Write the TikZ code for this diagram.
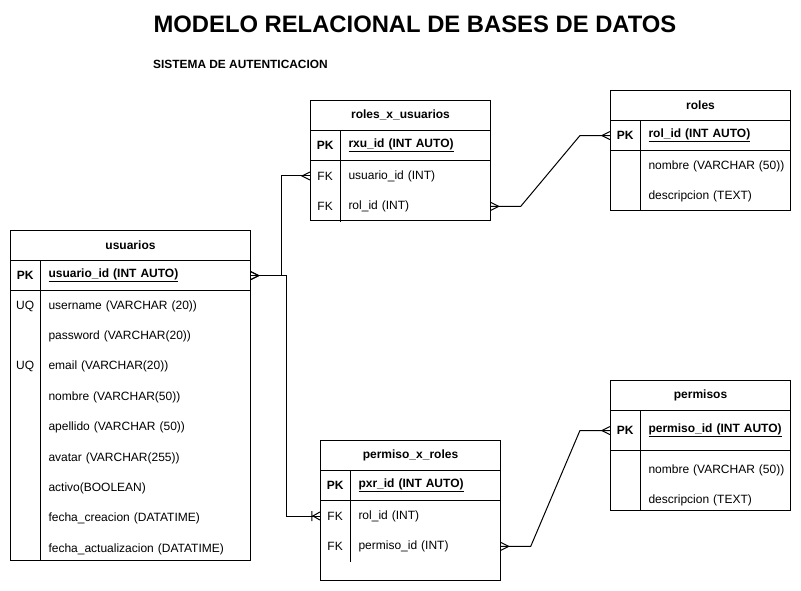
\documentclass[tikz,border=0pt]{standalone}
\usepackage{fontspec}
\setmainfont{Liberation Sans}
\usetikzlibrary{positioning, decorations.markings}

\newcommand{\tblfont}{\fontsize{12pt}{14pt}\selectfont}

\tikzstyle{tbl} = [draw, line width=1pt, inner sep=0pt, anchor=north west]
\tikzstyle{thead} = [inner sep=0pt, minimum height=30pt, align=center, font=\tblfont\bfseries]
\tikzstyle{keycol} = [inner sep=0pt, minimum width=30pt, minimum height=30pt, font=\tblfont]
\tikzstyle{pkey} = [keycol, font=\tblfont\bfseries]
\tikzstyle{fieldcol} = [inner sep=0pt, minimum height=30pt, text width=142pt, align=left, font=\tblfont]
\tikzstyle{pfield} = [fieldcol, font=\tblfont\bfseries]
\tikzstyle{sepline} = [line width=1pt]
\tikzstyle{link} = [line width=1pt]
\tikzstyle{crowStart} = [postaction={decorate, decoration={markings,
   mark=at position 0 with {\draw[line width=1pt] (0pt,4pt) -- (8pt,0pt) -- (0pt,-4pt);}}}]
\tikzstyle{crowEnd} = [postaction={decorate, decoration={markings,
   mark=at position 1 with {\draw[line width=1pt] (0pt,4pt) -- (-8pt,0pt) -- (0pt,-4pt);}}}]
\tikzstyle{oneManyEnd} = [postaction={decorate, decoration={markings,
   mark=at position 1 with {\draw[line width=1pt] (0pt,4pt) -- (-7pt,0pt) -- (0pt,-4pt)
   (-8pt,5pt) -- (-8pt,-5pt);}}}]

\begin{document}
\begin{tikzpicture}[x=1pt, y=-1pt]
  \useasboundingbox (0,0) rectangle (801,591);

  \node[font=\fontsize{23.8pt}{28pt}\selectfont\bfseries] (title) at (415,24) {MODELO RELACIONAL DE BASES DE DATOS};
  \node[anchor=west, inner sep=0pt, font=\fontsize{11.9pt}{14pt}\selectfont\bfseries] (subtitle) at (153,64) {SISTEMA DE AUTENTICACION};

  % usuarios
  \node[tbl, minimum width=240pt, minimum height=330pt] (usuarios) at (10,230) {};
  \node[thead, text width=240pt, below=0pt of usuarios.north] (usuarios-h) {usuarios};
  \node[pfield, text width=202pt, below left=0pt and 0pt of usuarios-h.south east] (usuario-id) {\underline{usuario\_id (INT AUTO)}};
  \node[pkey, left=8pt of usuario-id] (pk-usuarios) {PK};
  \node[fieldcol, text width=202pt, below=0pt of usuario-id] (username) {username (VARCHAR (20))};
  \node[keycol, left=8pt of username] (uq1-usuarios) {UQ};
  \node[fieldcol, text width=202pt, below=0pt of username] (password) {password (VARCHAR(20))};
  \node[fieldcol, text width=202pt, below=0pt of password] (email) {email (VARCHAR(20))};
  \node[keycol, left=8pt of email] (uq2-usuarios) {UQ};
  \node[fieldcol, text width=202pt, below=0pt of email] (nombre-usuarios) {nombre (VARCHAR(50))};
  \node[fieldcol, text width=202pt, below=0pt of nombre-usuarios] (apellido) {apellido (VARCHAR (50))};
  \node[fieldcol, text width=202pt, below=0pt of apellido] (avatar) {avatar (VARCHAR(255))};
  \node[fieldcol, text width=202pt, below=0pt of avatar] (activo) {activo(BOOLEAN)};
  \node[fieldcol, text width=202pt, below=0pt of activo] (fecha-c) {fecha\_creacion (DATATIME)};
  \node[fieldcol, text width=202pt, below=0pt of fecha-c] (fecha-a) {fecha\_actualizacion (DATATIME)};
  \draw[sepline] (usuarios-h.south west) -- (usuarios-h.south east);
  \draw[sepline] (pk-usuarios.south west) -- (usuario-id.south east);
  \draw[sepline] (pk-usuarios.north east) -- (pk-usuarios.north east |- usuarios.south);

  % roles_x_usuarios
  \node[tbl, minimum width=180pt, minimum height=120pt] (rxu) at (310,100) {};
  \node[thead, text width=180pt, below=0pt of rxu.north] (rxu-h) {roles\_x\_usuarios};
  \node[pfield, below left=0pt and 0pt of rxu-h.south east] (rxu-id) {\underline{rxu\_id (INT AUTO)}};
  \node[pkey, left=8pt of rxu-id] (pk-rxu) {PK};
  \node[fieldcol, below=0pt of rxu-id] (usuario-id-rxu) {usuario\_id (INT)};
  \node[keycol, left=8pt of usuario-id-rxu] (fk1-rxu) {FK};
  \node[fieldcol, below=0pt of usuario-id-rxu] (rol-id-rxu) {rol\_id (INT)};
  \node[keycol, left=8pt of rol-id-rxu] (fk2-rxu) {FK};
  \draw[sepline] (rxu-h.south west) -- (rxu-h.south east);
  \draw[sepline] (pk-rxu.south west) -- (rxu-id.south east);
  \draw[sepline] (pk-rxu.north east) -- (fk2-rxu.south east);

  % roles
  \node[tbl, minimum width=180pt, minimum height=120pt] (roles) at (610,90) {};
  \node[thead, text width=180pt, below=0pt of roles.north] (roles-h) {roles};
  \node[pfield, below left=0pt and 0pt of roles-h.south east] (rol-id) {\underline{rol\_id (INT AUTO)}};
  \node[pkey, left=8pt of rol-id] (pk-roles) {PK};
  \node[fieldcol, below=0pt of rol-id] (nombre-roles) {nombre (VARCHAR (50))};
  \node[fieldcol, below=0pt of nombre-roles] (desc-roles) {descripcion (TEXT)};
  \draw[sepline] (roles-h.south west) -- (roles-h.south east);
  \draw[sepline] (pk-roles.south west) -- (rol-id.south east);
  \draw[sepline] (pk-roles.north east) -- (pk-roles.north east |- roles.south);

  % permisos
  \node[tbl, minimum width=180pt, minimum height=130pt] (permisos) at (610,380) {};
  \node[thead, text width=180pt, below=0pt of permisos.north] (permisos-h) {permisos};
  \node[pfield, minimum height=40pt, below left=0pt and 0pt of permisos-h.south east] (permiso-id) {\underline{permiso\_id (INT AUTO)}};
  \node[pkey, minimum height=40pt, left=8pt of permiso-id] (pk-permisos) {PK};
  \node[fieldcol, below=4pt of permiso-id] (nombre-permisos) {nombre (VARCHAR (50))};
  \node[fieldcol, below=0pt of nombre-permisos] (desc-permisos) {descripcion (TEXT)};
  \draw[sepline] (permisos-h.south west) -- (permisos-h.south east);
  \draw[sepline] (pk-permisos.south west) -- (permiso-id.south east);
  \draw[sepline] (pk-permisos.north east) -- (pk-permisos.north east |- permisos.south);

  % permiso_x_roles
  \node[tbl, minimum width=180pt, minimum height=140pt] (pxr) at (320,440) {};
  \node[thead, text width=180pt, below=0pt of pxr.north] (pxr-h) {permiso\_x\_roles};
  \node[pfield, below left=0pt and 0pt of pxr-h.south east] (pxr-id) {\underline{pxr\_id (INT AUTO)}};
  \node[pkey, left=8pt of pxr-id] (pk-pxr) {PK};
  \node[fieldcol, below=0pt of pxr-id] (rol-id-pxr) {rol\_id (INT)};
  \node[keycol, left=8pt of rol-id-pxr] (fk1-pxr) {FK};
  \node[fieldcol, below=0pt of rol-id-pxr] (permiso-id-pxr) {permiso\_id (INT)};
  \node[keycol, left=8pt of permiso-id-pxr] (fk2-pxr) {FK};
  \draw[sepline] (pxr-h.south west) -- (pxr-h.south east);
  \draw[sepline] (pk-pxr.south west) -- (pxr-id.south east);
  \draw[sepline] (pk-pxr.north east) -- (fk2-pxr.south east);

  % relations
  \draw[link, crowStart, crowEnd] (usuario-id.east) -- ++(31pt,0pt) |- (fk1-rxu.west);
  \draw[link, crowStart, oneManyEnd] (usuario-id.east) -- ++(36pt,0pt) |- (fk1-pxr.west);
  \draw[link, crowStart, crowEnd] (rol-id-rxu.east) -- ++(30pt,0pt) -- ([xshift=-30pt]pk-roles.west) -- (pk-roles.west);
  \draw[link, crowStart, crowEnd] (permiso-id-pxr.east) -- ++(30pt,0pt) -- ([xshift=-30pt]pk-permisos.west) -- (pk-permisos.west);
\end{tikzpicture}
\end{document}
